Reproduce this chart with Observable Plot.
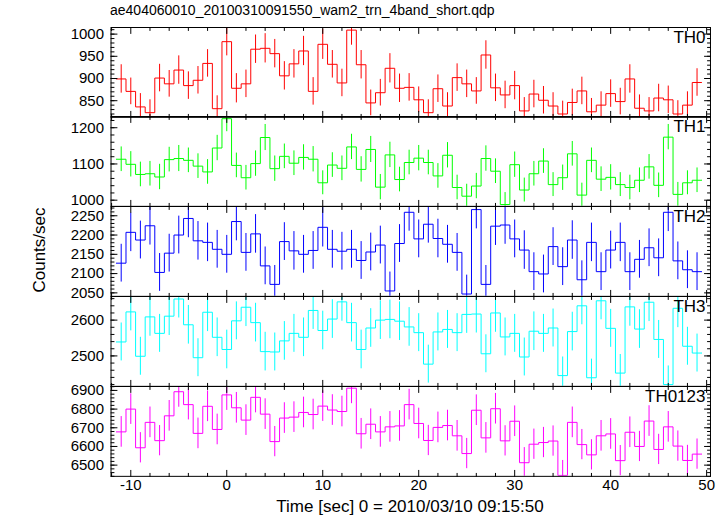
<!DOCTYPE html>
<html><head><meta charset="utf-8">
<script src="https://cdn.jsdelivr.net/npm/d3@7"></script>
<script src="https://cdn.jsdelivr.net/npm/@observablehq/plot@0.6"></script>
<style>
body{margin:0;background:#fff;}
#chart{position:relative;width:728px;height:516px;font-family:"Liberation Sans",Arial,Helvetica,sans-serif;color:#000;overflow:hidden;}
.title{position:absolute;left:110px;top:2px;font-size:14px;white-space:nowrap;}
.ylab{position:absolute;left:40px;top:250px;transform:translate(-50%,-50%) rotate(-90deg);font-size:17px;white-space:nowrap;}
.xlab{position:absolute;left:410px;top:497px;transform:translateX(-50%);font-size:17px;white-space:nowrap;}
.panel{position:absolute;left:0;}
</style>
</head><body>
<div id="chart">
  <div class="title">ae404060010_20100310091550_wam2_trn_4band_short.qdp</div>
  <div class="ylab">Counts/sec</div>
  <div class="xlab">Time [sec] 0 = 2010/03/10 09:15:50</div>
</div>
<script>
// bin centres (s)
const time = [-11,-10,-9,-8,-7,-6,-5,-4,-3,-2,-1,0,1,2,3,4,5,6,7,8,9,10,11,12,13,14,15,16,17,18,19,20,21,22,23,24,25,26,27,28,29,30,31,32,33,34,35,36,37,38,39,40,41,42,43,44,45,46,47,48,49];

const th0 = [899,871,836,823,901,888,919,884,896,934,832,983,878,888,966,968,956,906,933,962,871,977,932,890,1009,931,845,868,923,878,880,852,823,877,838,902,888,872,953,879,863,884,827,865,851,838,820,846,872,825,840,866,848,899,833,827,856,852,820,840,891];
const th0Err = [32,30,30,29,31,30,32,31,31,31,29,32,33,31,32,33,32,32,32,33,31,34,31,31,34,32,29,30,33,32,31,29,29,31,30,31,31,30,32,31,31,32,30,31,31,30,29,30,31,30,30,31,30,32,30,30,31,31,30,30,31];

const th1 = [1113,1099,1071,1073,1064,1112,1115,1110,1094,1078,1144,1225,1096,1062,1101,1173,1087,1121,1102,1118,1113,1048,1097,1088,1147,1085,1140,1036,1125,1057,1104,1116,1104,1067,1124,1035,1011,1039,1115,1080,988,1098,1028,1073,1108,1043,1062,1128,1014,1110,1058,1063,1043,1035,1055,1092,1041,1174,1016,1048,1055];
const th1Err = [34,35,34,34,35,34,36,34,34,34,35,36,34,34,35,36,35,34,34,35,35,33,34,34,35,35,36,35,35,34,34,35,34,34,35,34,33,35,35,34,33,35,33,34,34,33,35,34,33,34,34,35,33,34,34,34,34,35,33,33,34];

const th2 = [2127,2207,2187,2224,2103,2153,2200,2243,2185,2181,2163,2150,2235,2155,2203,2120,2072,2183,2159,2150,2160,2220,2163,2158,2163,2134,2156,2174,2055,2178,2259,2190,2228,2191,2176,2155,2047,2266,2072,2223,2226,2190,2161,2105,2099,2170,2118,2187,2084,2181,2105,2161,2181,2105,2137,2167,2141,2259,2133,2110,2105];
const th2Err = [49,50,49,50,49,49,49,50,50,50,49,49,50,49,50,49,49,49,50,49,49,51,49,49,49,49,49,49,49,49,49,49,49,50,49,49,49,50,49,50,50,49,50,49,49,49,49,50,49,50,49,49,50,49,49,49,49,50,49,49,49];

const th3 = [2539,2623,2499,2609,2563,2611,2659,2587,2495,2622,2552,2518,2598,2636,2593,2512,2511,2542,2563,2552,2627,2571,2603,2651,2593,2518,2578,2600,2602,2597,2581,2565,2477,2567,2574,2565,2616,2617,2506,2620,2553,2563,2497,2569,2563,2578,2445,2568,2640,2439,2654,2577,2452,2637,2575,2650,2546,2420,2633,2527,2508];
const th3Err = [53,53,53,54,53,54,53,54,53,54,54,54,53,54,54,54,53,54,53,54,53,54,54,54,54,54,54,54,54,54,54,53,53,53,53,53,53,53,53,54,53,53,53,54,53,53,52,54,53,52,53,53,52,54,54,54,53,52,54,53,53];

const th0123 = [6678,6800,6593,6729,6631,6764,6893,6824,6670,6815,6691,6876,6807,6741,6863,6773,6626,6752,6757,6782,6771,6816,6795,6787,6912,6668,6719,6678,6705,6710,6824,6723,6632,6702,6712,6657,6562,6794,6646,6802,6630,6735,6513,6612,6621,6629,6445,6729,6610,6555,6657,6667,6524,6676,6600,6736,6584,6705,6602,6525,6559];
const th0123Err = [82,82,81,82,81,82,83,82,82,82,82,83,82,82,83,82,81,82,82,82,82,82,82,82,83,82,82,82,82,82,82,82,81,82,82,82,81,82,82,82,81,82,81,81,81,81,80,82,81,81,82,82,81,82,81,82,81,82,81,81,81];

// axis ticks
const xMajor = [-10,0,10,20,30,40,50];
const xMinor = [-12,-8,-6,-4,-2,2,4,6,8,12,14,16,18,22,24,26,28,32,34,36,38,42,44,46,48];
const th0Ticks = [850,900,950,1000];
const th1Ticks = [1000,1100,1200];
const th2Ticks = [2050,2100,2150,2200,2250];
const th3Ticks = [2500,2600];
const th0123Ticks = [6500,6600,6700,6800,6900];

const panels = [
  {name:"TH0", v:th0, e:th0Err, color:"#ff0000", domain:[812.5,1014.9], ticks:th0Ticks, minor:10},
  {name:"TH1", v:th1, e:th1Err, color:"#00ff00", domain:[983,1231], ticks:th1Ticks, minor:20},
  {name:"TH2", v:th2, e:th2Err, color:"#0000ff", domain:[2041,2274], ticks:th2Ticks, minor:10},
  {name:"TH3", v:th3, e:th3Err, color:"#00ffff", domain:[2415,2666], ticks:th3Ticks, minor:20},
  {name:"TH0123", v:th0123, e:th0123Err, color:"#ff00ff", domain:[6440,6921], ticks:th0123Ticks, minor:20}
];

const xDomain = [-12.06, 50.4];
const top0 = 26.5, ph = 89.85;
const tickShape = {draw(c, l){ c.moveTo(0,0); c.lineTo(0,-l); }};
const vY = (vals, len, side) => Plot.vector(vals, {y:d=>d, frameAnchor:side, length:len, rotate: side==="left"?90:-90, anchor:"start", shape:tickShape, stroke:"#000", strokeWidth:1});
const vX = (vals, len, side) => Plot.vector(vals, {x:d=>d, frameAnchor:side, length:len, rotate: side==="bottom"?0:180, anchor:"start", shape:tickShape, stroke:"#000", strokeWidth:1});

const chart = document.getElementById("chart");
panels.forEach((p, i) => {
  const rows = time.map((t, j) => ({t, v:p.v[j], e:p.e[j]}));
  const steps = rows.map(r => ({x:r.t-0.5, v:r.v}));
  steps.push({x: rows[rows.length-1].t+0.5, v: rows[rows.length-1].v});
  const [d0, d1] = p.domain;
  const minor = d3.range(Math.ceil(d0/p.minor)*p.minor, d1, p.minor);
  const last = i === panels.length-1;
  const marks = [
    Plot.ruleX(rows, {x:"t", y1:d=>d.v-d.e, y2:d=>d.v+d.e, stroke:p.color, strokeWidth:1, clip:true}),
    Plot.line(steps, {x:"x", y:"v", curve:"step-after", stroke:p.color, strokeWidth:1, clip:true}),
    Plot.frame({stroke:"#000", strokeWidth:1}),
    vY(p.ticks, 6, "left"), vY(p.ticks, 6, "right"),
    vY(minor, 3, "left"), vY(minor, 3, "right"),
    vX(xMajor, 6, "bottom"), vX(xMajor, 6, "top"),
    vX(xMinor, 3, "bottom"), vX(xMinor, 3, "top"),
    Plot.axisY(p.ticks, {anchor:"left", tickSize:0, tickPadding:7, label:null, fontSize:15, tickFormat:d=>String(d)}),
    Plot.text([p.name], {frameAnchor:"top-right", text:d=>d, dx:-5, dy:3, lineAnchor:"top", textAnchor:"end", fontSize:17, fill:"#000"})
  ];
  if (last) marks.push(Plot.axisX(xMajor, {anchor:"bottom", tickSize:0, tickPadding:3, label:null, fontSize:15, tickFormat:d=>String(d)}));
  const svg = Plot.plot({
    width:728, height:ph,
    marginLeft:110.5, marginRight:18, marginTop:0, marginBottom:0,
    x:{domain:xDomain, axis:null},
    y:{domain:p.domain, axis:null},
    style:{background:"transparent", overflow:"visible", fontFamily:"Liberation Sans, Arial, sans-serif", fontSize:"15px", color:"#000"},
    marks
  });
  svg.classList.add("panel");
  svg.style.top = (top0 + i*ph) + "px";
  chart.appendChild(svg);
});
</script>
</body></html>
